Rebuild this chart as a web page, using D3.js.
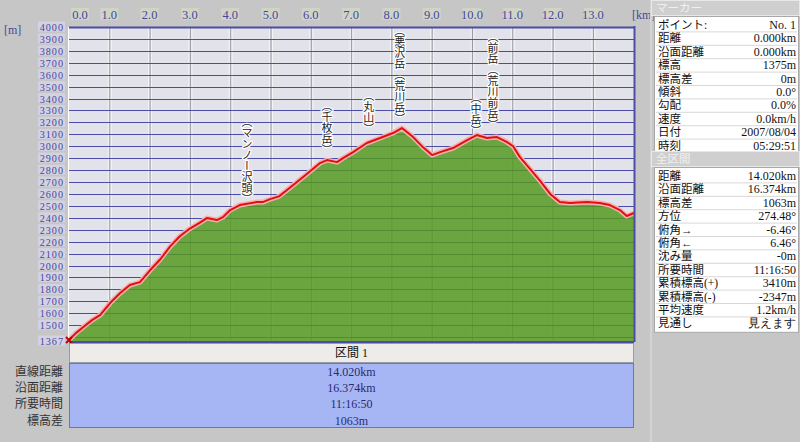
<!DOCTYPE html>
<html><head><meta charset="utf-8">
<script src="https://cdn.jsdelivr.net/npm/d3@7"></script>
<style>
html,body{margin:0;padding:0;background:#c6c6c6;}
svg{display:block;}
</style></head>
<body>
<svg id="c" width="800" height="442"></svg>
<script>
// ---- data ----
const distKm = [0.00,0.17,0.35,0.57,0.77,1.02,1.27,1.51,1.76,2.01,2.26,2.51,2.75,3.00,3.25,3.42,3.67,3.82,4.00,4.24,4.66,4.81,4.99,5.21,5.41,5.81,6.23,6.40,6.65,6.80,7.05,7.39,7.72,8.04,8.26,8.54,8.78,9.01,9.21,9.53,9.88,10.12,10.37,10.62,10.87,11.02,11.19,11.44,11.69,11.94,12.18,12.43,12.85,13.17,13.42,13.67,13.84,14.02];
const elevM  = [1375,1433,1483,1542,1584,1685,1769,1836,1861,1960,2050,2160,2245,2310,2360,2398,2381,2406,2465,2507,2532,2532,2557,2580,2633,2742,2859,2884,2867,2901,2951,3027,3069,3111,3153,3077,2993,2926,2951,2985,3052,3094,3069,3077,3035,3000,2909,2810,2710,2600,2532,2524,2532,2524,2507,2465,2415,2440];
const xTicks = [0,1,2,3,4,5,6,7,8,9,10,11,12,13];
const yTicks = [1500,1600,1700,1800,1900,2000,2100,2200,2300,2400,2500,2600,2700,2800,2900,3000,3100,3200,3300,3400,3500,3600,3700,3800,3900,4000];
const yGrid  = [1400].concat(yTicks);
const yMin = 1367, yMax = 4000, xMax = 14.02;
const peakNames = ["（マンノー沢頭）","（千枚岳）","（丸山）","（悪沢岳（荒川岳）","（中岳）","（前岳（荒川前岳）"];
const peakKm    = [4.42, 6.40, 7.44, 8.21, 10.10, 10.52];
const peakLabelBottomM = [2515, 2925, 3100, 3185, 3085, 3130];
const sectionRowLabels = ["直線距離","沿面距離","所要時間","標高差"];
const sectionRowValues = ["14.020km","16.374km","11:16:50","1063m"];
const markerLabels = ["ポイント:","距離","沿面距離","標高","標高差","傾斜","勾配","速度","日付","時刻"];
const markerValues = ["No. 1","0.000km","0.000km","1375m","0m","0.0°","0.0%","0.0km/h","2007/08/04","05:29:51"];
const totalLabels = ["距離","沿面距離","標高差","方位","俯角→","俯角←","沈み量","所要時間","累積標高(+)","累積標高(-)","平均速度","見通し"];
const totalValues = ["14.020km","16.374km","1063m","274.48°","-6.46°","6.46°","-0m","11:16:50","3410m","-2347m","1.2km/h","見えます"];

// ---- layout ----
const L = 69, R = 634, T = 27, B = 341;
const svg = d3.select("#c");
const x = d3.scaleLinear().domain([0, xMax]).range([L, R]);
const y = d3.scaleLinear().domain([yMin, yMax]).range([B, T]);
const serif = "'Liberation Serif','DejaVu Serif',serif";
const jp = "'Liberation Serif','Noto Sans CJK JP',serif";
const jpv = "'Noto Sans CJK JP','Noto Sans',sans-serif";

// plot background
svg.append("rect").attr("x", L).attr("y", T).attr("width", R - L).attr("height", B - T).attr("fill", "#e2e2ea");

// vertical grid
const vg = svg.append("g");
xTicks.filter(d => d > 0).forEach(d => {
  vg.append("line").attr("x1", x(d) - 1).attr("x2", x(d) - 1).attr("y1", T).attr("y2", B).attr("stroke", "#f4f4f4").attr("stroke-width", 1);
  vg.append("line").attr("x1", x(d) + 0.5).attr("x2", x(d) + 0.5).attr("y1", T).attr("y2", B).attr("stroke", "#9a9aa4").attr("stroke-width", 1);
  vg.append("line").attr("x1", x(d) + 2).attr("x2", x(d) + 2).attr("y1", T).attr("y2", B).attr("stroke", "#f4f4f4").attr("stroke-width", 1);
});
// horizontal grid
const hg = svg.append("g");
yGrid.forEach(d => {
  hg.append("line").attr("x1", L).attr("x2", R).attr("y1", Math.round(y(d)) + 0.5).attr("y2", Math.round(y(d)) + 0.5)
    .attr("stroke", "#4c4ca6").attr("stroke-width", d === 4000 ? 2 : 1);
});

// area
const pts = distKm.map((d, i) => [d, elevM[i]]);
const area = d3.area().x(d => x(d[0])).y0(B).y1(d => y(d[1]));
svg.append("path").datum(pts).attr("d", area).attr("fill", "#52981e").attr("fill-opacity", 0.84);

// profile line
const line = d3.line().x(d => x(d[0])).y(d => y(d[1]));
svg.append("path").datum(pts).attr("d", line).attr("fill", "none").attr("stroke", "#f6b0b0").attr("stroke-width", 5).attr("stroke-linejoin", "round");
svg.append("path").datum(pts).attr("d", line).attr("fill", "none").attr("stroke", "#e01010").attr("stroke-width", 2).attr("stroke-linejoin", "round");

// borders
svg.append("line").attr("x1", L - 0.5).attr("x2", L - 0.5).attr("y1", T).attr("y2", B + 1).attr("stroke", "#ffffff").attr("stroke-width", 1);
svg.append("line").attr("x1", R + 0.5).attr("x2", R + 0.5).attr("y1", T - 1).attr("y2", B + 1).attr("stroke", "#4c4ca6").attr("stroke-width", 2);
svg.append("line").attr("x1", L).attr("x2", R).attr("y1", B + 1).attr("y2", B + 1).attr("stroke", "#4c4ca6").attr("stroke-width", 2);

// start marker
const s0 = pts[0];
svg.append("path").attr("d", `M${x(s0[0])-3},${y(s0[1])-3}L${x(s0[0])+3},${y(s0[1])+3}M${x(s0[0])-3},${y(s0[1])+3}L${x(s0[0])+3},${y(s0[1])-3}`)
  .attr("stroke", "#c00000").attr("stroke-width", 2);

// y tick labels
const yl = svg.append("g");
yTicks.concat([yMin]).forEach(d => {
  const yy = d === yMin ? B : y(d);
  yl.append("rect").attr("x", 38).attr("y", yy - 5.5).attr("width", 27).attr("height", 10).attr("fill", "#d2d2e2");
  yl.append("text").attr("x", 64).attr("y", yy + 4).attr("text-anchor", "end")
    .attr("font-family", serif).attr("font-size", 10.2).attr("letter-spacing", 1)
    .attr("fill", "#4646a0").text(d);
});
svg.append("text").attr("x", 4).attr("y", 34).attr("font-family", serif).attr("font-size", 12).attr("fill", "#4646a0").text("[m]");

// x tick labels
const xl = svg.append("g");
xTicks.forEach(d => {
  const cx = d === 0 ? x(d) + 11 : x(d);
  xl.append("rect").attr("x", cx - 9).attr("y", 8).attr("width", 18).attr("height", 12).attr("fill", "#d0d4c6");
  xl.append("text").attr("x", cx).attr("y", 18.5).attr("text-anchor", "middle")
    .attr("font-family", serif).attr("font-size", 12.5).attr("fill", "#4646a0").text(d.toFixed(1));
});
svg.append("text").attr("x", 632).attr("y", 18.5).attr("font-family", serif).attr("font-size", 12).attr("fill", "#4646a0").text("[km]");

// peak labels (vertical)
const pl = svg.append("g");
peakNames.forEach((n, i) => {
  pl.append("text").attr("x", x(peakKm[i])).attr("y", y(peakLabelBottomM[i]))
    .attr("text-anchor", "end").style("writing-mode", "vertical-rl")
    .attr("font-family", jpv).attr("font-size", 11).attr("fill", "#222")
    .attr("stroke", "#ffffff").attr("stroke-width", 2.5).attr("paint-order", "stroke").attr("stroke-linejoin", "round")
    .text(n);
});

// section panel
svg.append("rect").attr("x", L + 0.5).attr("y", 343.5).attr("width", R - L - 1).attr("height", 19).attr("fill", "#eeece8").attr("stroke", "#9a9aa8");
svg.append("text").attr("x", (L + R) / 2).attr("y", 357).attr("text-anchor", "middle").attr("font-family", jp).attr("font-size", 12).attr("fill", "#111").text("区間 1");
svg.append("rect").attr("x", L + 0.5).attr("y", 363.5).attr("width", R - L - 1).attr("height", 64).attr("fill", "#a6b6f4").attr("stroke", "#6a76b8");
sectionRowLabels.forEach((t, i) => {
  const yy = 376 + i * 16.2;
  svg.append("text").attr("x", 63).attr("y", yy).attr("text-anchor", "end").attr("font-family", jp).attr("font-size", 12).attr("fill", "#333").text(t);
  svg.append("text").attr("x", (L + R) / 2).attr("y", yy).attr("text-anchor", "middle").attr("font-family", serif).attr("font-size", 12).attr("fill", "#2a2a70").text(sectionRowValues[i]);
});

// right panel
const P = 651;
svg.append("rect").attr("x", 650).attr("y", 0).attr("width", 2).attr("height", 442).attr("fill", "#d4d4d4");
function header(yTop, label) {
  svg.append("rect").attr("x", P + 0.5).attr("y", yTop + 0.5).attr("width", 148).attr("height", 15).attr("fill", "#cfcfcf").attr("stroke", "#e8e8e8");
  svg.append("text").attr("x", P + 5).attr("y", yTop + 12).attr("font-family", jp).attr("font-size", 11.5).attr("fill", "#f0f0f0").text(label);
}
function table(yTop, labels, values, rowH) {
  const h = labels.length * rowH + 4;
  svg.append("rect").attr("x", P + 3.5).attr("y", yTop + 0.5).attr("width", 144).attr("height", h).attr("fill", "#ffffff").attr("stroke", "#a8a8a8");
  labels.forEach((t, i) => {
    const ry = yTop + 2 + i * rowH;
    if (i > 0) svg.append("line").attr("x1", P + 5).attr("x2", P + 146).attr("y1", ry + 0.5).attr("y2", ry + 0.5).attr("stroke", "#d8d8d8");
    svg.append("text").attr("x", P + 7).attr("y", ry + rowH - 2.5).attr("font-family", jp).attr("font-size", 11.5).attr("fill", "#111").text(t);
    svg.append("text").attr("x", P + 145).attr("y", ry + rowH - 2.5).attr("text-anchor", "end").attr("font-family", serif).attr("font-size", 12).attr("fill", "#111").text(values[i]);
  });
}
header(0, "マーカー");
table(16, markerLabels, markerValues, 13.4);
header(151, "全区間");
table(167, totalLabels, totalValues, 13.4);
</script>
</body></html>
